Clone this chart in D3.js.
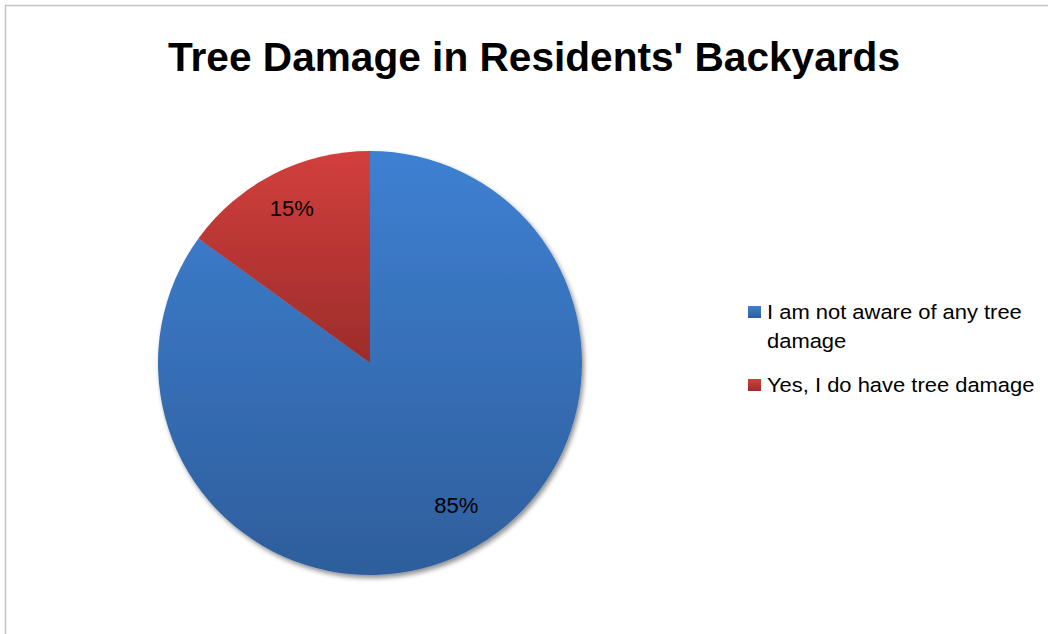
<!DOCTYPE html>
<html>
<head>
<meta charset="utf-8">
<script src="https://cdn.jsdelivr.net/npm/d3@7"></script>
<style>
  html, body { margin: 0; padding: 0; background: #fff; }
  svg { display: block; }
</style>
</head>
<body>
<svg id="chart" width="1048" height="634"></svg>
<script>
// Survey answers and their shares (percent)
const categories = ["I am not aware of any tree damage", "Yes, I do have tree damage"];
const values = [85, 15];
const valueLabels = ["85%", "15%"];
const legendLines = [["I am not aware of any tree", "damage"], ["Yes, I do have tree damage"]];
const titleText = "Tree Damage in Residents' Backyards";

const colorsTop = ["#3e80d2", "#d23f3d"];
const colorsBottom = ["#2e5e9c", "#9c2c2a"];

const svg = d3.select("#chart");
const font = "'Liberation Sans', Arial, sans-serif";

// chart frame
svg.append("rect")
  .attr("x", 5.5).attr("y", 5.5)
  .attr("width", 1200).attr("height", 800)
  .attr("fill", "#fff")
  .attr("stroke", "#c4c4c4")
  .attr("stroke-width", 1.5);

const defs = svg.append("defs");

// slice gradients, one per category, top-light to bottom-dark
categories.forEach((c, i) => {
  const g = defs.append("linearGradient")
    .attr("id", "grad" + i)
    .attr("x1", 0).attr("y1", 0).attr("x2", 0).attr("y2", 1);
  g.append("stop").attr("offset", "0%").attr("stop-color", colorsTop[i]);
  g.append("stop").attr("offset", "100%").attr("stop-color", colorsBottom[i]);
});

// soft drop shadow under the pie
const f = defs.append("filter").attr("id", "shadow")
  .attr("x", "-10%").attr("y", "-10%").attr("width", "125%").attr("height", "125%");
f.append("feGaussianBlur").attr("in", "SourceAlpha").attr("stdDeviation", 2.5);
f.append("feOffset").attr("dx", 2).attr("dy", 3).attr("result", "ob");
f.append("feComponentTransfer").append("feFuncA").attr("type", "linear").attr("slope", 0.45);
const m = f.append("feMerge");
m.append("feMergeNode");
m.append("feMergeNode").attr("in", "SourceGraphic");

// title
svg.append("text")
  .attr("x", 534).attr("y", 71)
  .attr("text-anchor", "middle")
  .attr("font-family", font)
  .attr("font-weight", "bold")
  .attr("font-size", 41)
  .attr("textLength", 732)
  .attr("lengthAdjust", "spacingAndGlyphs")
  .attr("fill", "#000")
  .text(titleText);

// pie
const cx = 370, cy = 363, R = 212;
const pie = d3.pie().sort(null).value(d => d);
const arcs = pie(values);
const arc = d3.arc().innerRadius(0).outerRadius(R);
const labelArc = d3.arc().innerRadius(170).outerRadius(170);
// best-fit nudges for the value labels
const labelNudge = [[9, -9], [-1, -3]];

const g = svg.append("g").attr("transform", `translate(${cx},${cy})`);
const slices = g.append("g").attr("filter", "url(#shadow)");
slices.selectAll("path")
  .data(arcs)
  .join("path")
  .attr("d", arc)
  .attr("fill", (d, i) => `url(#grad${i})`);

g.selectAll("text.val")
  .data(arcs)
  .join("text")
  .attr("class", "val")
  .attr("transform", (d, i) => {
    const [x, y] = labelArc.centroid(d);
    return `translate(${x + labelNudge[i][0]},${y + labelNudge[i][1]})`;
  })
  .attr("text-anchor", "middle")
  .attr("dy", "0.36em")
  .attr("font-family", font)
  .attr("font-size", 22)
  .attr("fill", "#000")
  .text((d, i) => valueLabels[i]);

// legend
const legendBase = [319, 392];
const lineGap = 29;
const legendX = 767;
const leg = svg.append("g");
categories.forEach((c, i) => {
  leg.append("rect")
    .attr("x", 748).attr("y", legendBase[i] - 13)
    .attr("width", 13).attr("height", 12)
    .attr("fill", `url(#grad${i})`);
  legendLines[i].forEach((line, j) => {
    const t = leg.append("text")
      .attr("x", legendX).attr("y", legendBase[i] + j * lineGap)
      .attr("font-family", font)
      .attr("font-size", 20.5)
      .attr("fill", "#000")
      .text(line);
    // widen slightly to the proportions of the legend face
    const w = t.node().getComputedTextLength();
    t.attr("textLength", w * 1.07).attr("lengthAdjust", "spacingAndGlyphs");
  });
});
</script>
</body>
</html>
